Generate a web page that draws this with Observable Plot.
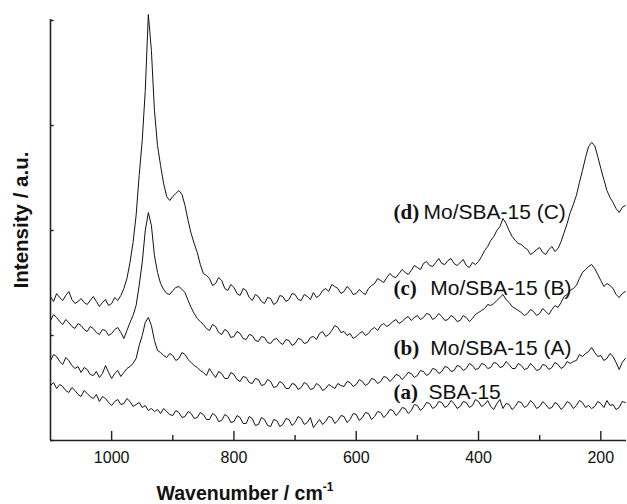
<!DOCTYPE html>
<html>
<head>
<meta charset="utf-8">
<script src="https://cdn.jsdelivr.net/npm/d3@7"></script>
<script src="https://cdn.jsdelivr.net/npm/@observablehq/plot@0.6"></script>
<style>
  html, body { margin: 0; padding: 0; background: #fff; }
  #chart svg { display: block; }
</style>
</head>
<body>
<div id="chart"></div>
<script>
// Wavenumber (cm^-1), sampled every 5 cm^-1 from 1100 down to 160
const wavenumber = d3.range(1100, 155, -5);

// (a) SBA-15
const seriesA = [
  55,58,52,56,54,50,48,53,50,46,44,50,47,44,42,46,39,44,42,38,
  35,39,41,36,37,42,39,34,36,38,33,35,30,32,29,31,27,32,29,26,
  25,30,28,23,24,29,27,22,23,28,26,21,21,27,25,19,20,26,24,18,
  19,25,23,17,17,24,22,15,16,23,21,15,14,21,20,14,16,22,21,15,
  18,24,22,16,18,23,13,17,21,16,19,24,23,17,20,25,24,18,21,27,
  26,20,23,28,27,21,24,29,28,23,26,31,30,25,28,33,32,27,30,36,
  35,30,33,38,37,32,34,39,38,33,35,40,37,32,34,39,38,33,35,41,
  39,34,36,40,34,31,37,41,32,37,36,31,34,39,38,33,35,40,37,32,
  34,39,36,32,33,38,36,31,34,39,37,32,35,40,38,33,35,32,34,39,
  37,33,40,35,36,31,33,39,38
];
// (b) Mo/SBA-15 (A)
const seriesB = [
  80,86,84,79,76,83,80,75,72,74,68,73,71,66,65,69,63,67,75,68,
  62,67,70,64,68,72,74,77,82,95,105,118,123,115,100,90,88,85,83,87,
  85,80,82,88,86,81,78,75,73,70,68,65,72,67,63,69,67,62,62,68,
  66,61,59,64,63,58,57,62,61,55,56,61,59,53,54,59,57,52,52,57,
  56,51,53,58,56,51,52,57,55,50,52,56,54,52,57,55,54,59,58,54,
  56,61,59,55,57,62,61,57,59,64,63,59,62,66,65,61,64,68,67,63,
  65,70,69,65,67,72,71,67,69,74,73,69,70,75,74,70,72,77,75,71,
  72,77,76,72,73,78,77,73,74,79,76,72,72,77,75,71,72,77,74,70,
  71,76,75,71,73,78,76,72,74,79,77,79,80,86,84,87,89,93,88,84,
  85,80,82,87,84,78,71,78,82
];
// (c) Mo/SBA-15 (B)
const seriesC = [
  120,126,123,119,116,121,118,114,112,117,115,111,109,114,112,108,106,111,110,105,
  107,111,113,108,102,110,118,125,135,155,178,210,228,215,185,168,157,151,147,146,
  150,153,154,151,148,140,133,127,122,119,116,112,110,116,114,108,106,111,109,103,
  104,109,107,102,101,106,105,100,99,104,103,98,97,101,102,98,96,101,100,95,
  97,102,101,97,98,103,104,101,107,109,104,106,110,115,113,108,109,105,107,102,
  104,107,109,105,107,111,113,110,115,117,114,116,119,121,117,119,122,124,120,123,
  125,121,123,127,126,121,123,127,124,120,121,125,123,119,120,125,123,119,122,126,
  128,130,132,136,135,137,140,143,146,141,138,134,132,130,128,125,127,131,129,125,
  127,132,129,126,131,135,133,138,144,146,150,152,155,162,168,171,174,176,172,166,
  160,154,157,155,152,146,143,147,149
];
// (d) Mo/SBA-15 (C)
const seriesD = [
  144,139,147,143,140,145,149,141,137,139,142,138,136,140,144,139,134,138,141,135,
  137,143,140,145,152,162,178,198,225,265,300,350,426,390,330,295,275,257,244,240,
  244,247,250,246,235,220,207,197,188,176,167,165,162,155,157,163,160,152,150,156,
  153,147,145,152,150,143,140,146,144,139,137,143,142,136,138,145,144,139,141,147,
  146,141,140,146,144,141,148,143,145,150,152,149,156,154,152,147,149,154,151,146,
  147,151,148,146,152,155,157,162,160,158,163,167,164,163,167,171,168,166,170,175,
  173,171,177,179,175,174,178,182,177,176,180,182,177,175,178,181,175,173,178,176,
  179,184,190,194,200,204,210,214,222,217,210,204,200,197,196,193,191,186,188,191,
  193,188,186,191,194,189,192,199,208,217,228,236,245,258,270,283,294,298,295,284,
  272,261,250,243,238,232,228,233,235
];

const seriesKeys = ["a", "b", "c", "d"];
const seriesValues = [seriesA, seriesB, seriesC, seriesD];
const seriesLetters = ["(a)", "(b)", "(c)", "(d)"];
const seriesNames = ["SBA-15", "Mo/SBA-15 (A)", "Mo/SBA-15 (B)", "Mo/SBA-15 (C)"];

const xMajorTicks = [1000, 800, 600, 400, 200];
const xMinorTicks = [900, 700, 500, 300];
const yTicks = [0, 105, 210, 315, 420];

// label anchors (data coordinates)
const labelLetterX = [539, 539, 539, 539];
const labelNameX = [482, 479, 479, 490];
const labelY = [42, 86, 146, 222];

const rows = [];
seriesValues.forEach((vals, k) => {
  if (vals.length !== wavenumber.length) console.error("length mismatch", seriesKeys[k], vals.length, wavenumber.length);
  vals.forEach((v, i) => { if (i < wavenumber.length) rows.push({ w: wavenumber[i], v, s: seriesKeys[k] }); });
});
const labels = seriesKeys.map((k, i) => ({
  letter: seriesLetters[i], name: seriesNames[i],
  lx: labelLetterX[i], nx: labelNameX[i], y: labelY[i]
}));

const W = 627, H = 504;
const chart = Plot.plot({
  width: W,
  height: H,
  marginTop: 19,
  marginBottom: 64,
  marginLeft: 50,
  marginRight: 1,
  style: { background: "#fff", fontFamily: "'Liberation Sans', Arial, sans-serif" },
  x: { domain: [1100, 158], axis: null },
  y: { domain: [0, 421], axis: null },
  marks: [
    Plot.line(rows, { x: "w", y: "v", z: "s", stroke: "#111", strokeWidth: 1, strokeLinejoin: "round" }),
    // axes lines
    Plot.ruleY([0], { stroke: "#222", strokeWidth: 1.6 }),
    Plot.ruleX([1100], { stroke: "#222", strokeWidth: 1.6 }),
    // x ticks (inward)
    Plot.ruleX(xMajorTicks, { x: d => d, y1: 0, y2: 9, stroke: "#222", strokeWidth: 1.4 }),
    Plot.ruleX(xMinorTicks, { x: d => d, y1: 0, y2: 5, stroke: "#222", strokeWidth: 1.4 }),
    // y ticks (inward)
    Plot.ruleY(yTicks, { y: d => d, x1: 1100, x2: 1094, stroke: "#222", strokeWidth: 1.4 }),
    // x tick labels
    Plot.text(xMajorTicks, {
      x: d => d, y: 0, text: d => String(d), dy: 17.5, lineAnchor: "middle",
      fontSize: 16, fill: "#111", fontFamily: "'Liberation Sans', Arial, sans-serif"
    }),
    // series labels
    Plot.text(labels, {
      x: "lx", y: "y", text: "letter", textAnchor: "start", lineAnchor: "bottom",
      fontSize: 21, fontWeight: "bold", fill: "#111",
      fontFamily: "'Liberation Serif', 'Times New Roman', serif"
    }),
    Plot.text(labels, {
      x: "nx", y: "y", text: "name", textAnchor: "start", lineAnchor: "bottom",
      fontSize: 21, fill: "#111", fontFamily: "'Liberation Sans', Arial, sans-serif"
    })
  ]
});
document.getElementById("chart").appendChild(chart);

// axis titles
const svg = d3.select(chart);
const xt = svg.append("text")
  .attr("x", 245).attr("y", 500)
  .attr("font-family", "'Liberation Sans', Arial, sans-serif")
  .attr("font-weight", "bold").attr("font-size", 19.5).attr("fill", "#111");
xt.append("tspan").text("Wavenumber / cm");
xt.append("tspan").attr("font-size", 12).attr("dy", -9).text("-1");

svg.append("text")
  .attr("transform", "translate(28,220) rotate(-90)")
  .attr("text-anchor", "middle")
  .attr("font-family", "'Liberation Sans', Arial, sans-serif")
  .attr("font-weight", "bold").attr("font-size", 20.5).attr("fill", "#111")
  .text("Intensity / a.u.");
</script>
</body>
</html>
